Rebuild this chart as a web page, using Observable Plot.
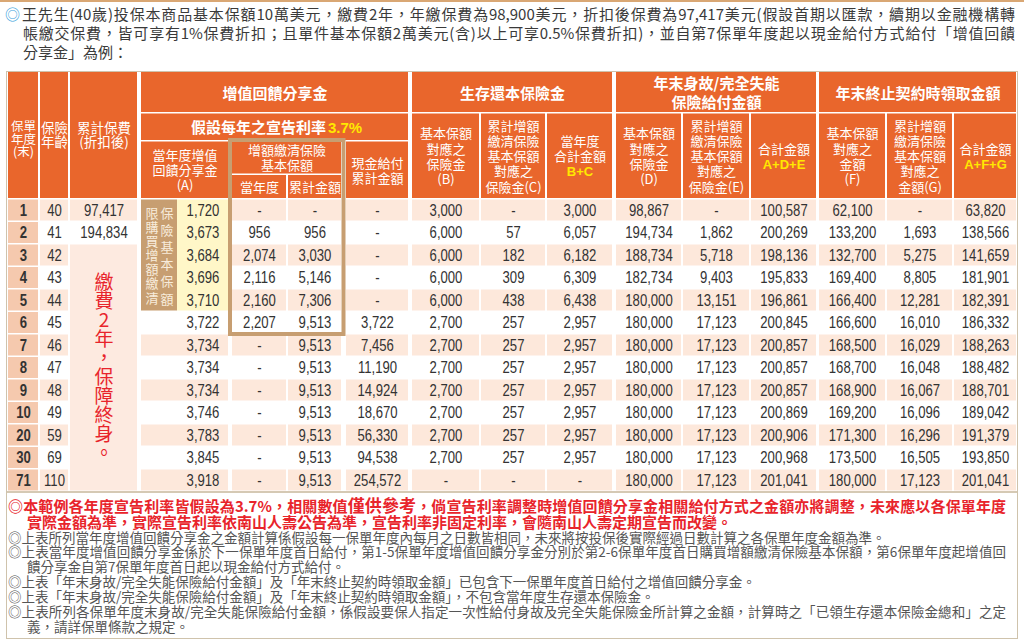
<!DOCTYPE html>
<html><head><meta charset="utf-8">
<script src="https://cdn.jsdelivr.net/npm/d3@7"></script>
<script src="https://cdn.jsdelivr.net/npm/@observablehq/plot@0.6"></script>
<style>
html,body{margin:0;padding:0;background:#fff;}
#page{position:relative;width:1024px;height:644px;overflow:hidden;font-family:"Noto Sans CJK TC","Noto Sans CJK SC",sans-serif;}
.ln{position:absolute;white-space:nowrap;}
.j{text-align:justify;text-align-last:justify;}
.intro{font-size:15px;line-height:19px;color:#3a3a3a;}
.red{font-size:15px;line-height:16px;color:#E8242B;font-weight:700;}
.grey{font-size:13.5px;line-height:15px;color:#555;}
.big{font-size:17px;}
#chart{position:absolute;left:0;top:66px;}
.frame{position:absolute;left:6px;top:71px;width:1012px;height:568px;border:1.5px solid #CFC3AC;box-sizing:border-box;pointer-events:none;}
.sep{position:absolute;left:6px;top:491px;width:1012px;height:1.5px;background:#D5C9B4;}
</style></head><body>
<div id="page">
  <div style="position:absolute;left:0;top:0;width:1024px;height:2px;background:#D9A774"></div>
  <div class="ln intro" style="left:5px;top:4px;color:#3AA3DD">◎</div>
  <div class="ln intro j" style="left:22px;top:4px;width:993px">王先生(40歲)投保本商品基本保額10萬美元，繳費2年，年繳保費為98,900美元，折扣後保費為97,417美元(假設首期以匯款，續期以金融機構轉</div>
  <div class="ln intro j" style="left:23px;top:23px;width:992px">帳繳交保費，皆可享有1%保費折扣；且單件基本保額2萬美元(含)以上可享0.5%保費折扣)，並自第7保單年度起以現金給付方式給付「增值回饋</div>
  <div class="ln intro" style="left:23px;top:42px">分享金」為例：</div>
  <div id="chart"></div>
  <div class="ln red j" style="left:8px;top:497px;width:998px">◎本範例各年度宣告利率皆假設為3.7%，相關數值<span class="big">僅供參考</span>，倘宣告利率調整時增值回饋分享金相關給付方式之金額亦將調整，未來應以各保單年度</div>
  <div class="ln red" style="left:27px;top:514px">實際金額為準，實際宣告利率依南山人壽公告為準，宣告利率非固定利率，會隨南山人壽定期宣告而改變。</div>
  <div class="ln grey" style="left:8px;top:530px">◎上表所列當年度增值回饋分享金之金額計算係假設每一保單年度內每月之日數皆相同，未來將按投保後實際經過日數計算之各保單年度金額為準。</div>
  <div class="ln grey j" style="left:8px;top:544px;width:998px">◎上表當年度增值回饋分享金係於下一保單年度首日給付，第1-5保單年度增值回饋分享金分別於第2-6保單年度首日購買增額繳清保險基本保額，第6保單年度起增值回</div>
  <div class="ln grey" style="left:27px;top:559px">饋分享金自第7保單年度首日起以現金給付方式給付。</div>
  <div class="ln grey" style="left:8px;top:574px">◎上表「年末身故/完全失能保險給付金額」及「年末終止契約時領取金額」已包含下一保單年度首日給付之增值回饋分享金。</div>
  <div class="ln grey" style="left:8px;top:589px">◎上表「年末身故/完全失能保險給付金額」及「年末終止契約時領取金額」，不包含當年度生存還本保險金。</div>
  <div class="ln grey j" style="left:8px;top:604px;width:998px">◎上表所列各保單年度末身故/完全失能保險給付金額，係假設要保人指定一次性給付身故及完全失能保險金所計算之金額，計算時之「已領生存還本保險金總和」之定</div>
  <div class="ln grey" style="left:27px;top:619px">義，請詳保單條款之規定。</div>
  <div class="sep"></div>
  <div class="frame"></div>
</div>
<script>
// ================= DATA =================
const years    = [1, 2, 3, 4, 5, 6, 7, 8, 9, 10, 20, 30, 71];
const ages     = [40, 41, 42, 43, 44, 45, 46, 47, 48, 49, 59, 69, 110];
const cumPremium = [97417, 194834];            // rows 1-2 (rest: merged note)
const bonusA   = [1720, 3673, 3684, 3696, 3710, 3722, 3734, 3734, 3734, 3746, 3783, 3845, 3918];
const puaYear  = [null, 956, 2074, 2116, 2160, 2207, null, null, null, null, null, null, null];
const puaCum   = [null, 956, 3030, 5146, 7306, 9513, 9513, 9513, 9513, 9513, 9513, 9513, 9513];
const cashCum  = [null, null, null, null, null, 3722, 7456, 11190, 14924, 18670, 56330, 94538, 254572];
const survB    = [3000, 6000, 6000, 6000, 6000, 2700, 2700, 2700, 2700, 2700, 2700, 2700, null];
const survC    = [null, 57, 182, 309, 438, 257, 257, 257, 257, 257, 257, 257, null];
const survBC   = [3000, 6057, 6182, 6309, 6438, 2957, 2957, 2957, 2957, 2957, 2957, 2957, null];
const deathD   = [98867, 194734, 188734, 182734, 180000, 180000, 180000, 180000, 180000, 180000, 180000, 180000, 180000];
const deathE   = [null, 1862, 5718, 9403, 13151, 17123, 17123, 17123, 17123, 17123, 17123, 17123, 17123];
const deathADE = [100587, 200269, 198136, 195833, 196861, 200845, 200857, 200857, 200857, 200869, 200906, 200968, 201041];
const surrF    = [62100, 133200, 132700, 169400, 166400, 166600, 168500, 168700, 168900, 169200, 171300, 173500, 180000];
const surrG    = [null, 1693, 5275, 8805, 12281, 16010, 16029, 16048, 16067, 16096, 16296, 16505, 17123];
const surrAFG  = [63820, 138566, 141659, 181901, 182391, 186332, 188263, 188482, 188701, 189042, 191379, 193850, 201041];

const groupTitles = ["增值回饋分享金", "生存還本保險金", "年末身故/完全失能\n保險給付金額", "年末終止契約時領取金額"];
const rateLabel = "假設每年之宣告利率";
const rateValue = "3.7%";
const sideNote = "繳費2年，保障終身。";
const blockLeft = "限購買增額繳清";
const blockRight = "保險基本保額";

// ================= LAYOUT =================
const X_EDGES = [8,38, 40,68, 70,137, 141,177, 177,228, 232,286, 288,341, 346,408,
                 412,479, 481,545, 547,612, 616,681, 683,749, 751,816, 819,885, 887,952, 954,1016];
const Y_TOP = 66, SVG_H = 428;
const HEADER_EDGES = [72,112, 113.5,140, 141.5,173.5, 175,198];
const ROW0 = 199.5, ROW_PITCH = 22.5, ROW_H = 21;
const yEdgesPage = HEADER_EDGES.concat(years.flatMap((_, j) => [ROW0 + ROW_PITCH * j, ROW0 + ROW_PITCH * j + ROW_H]));
const xDomain = X_EDGES.map((_, i) => i);
const yDomain = yEdgesPage.map((_, i) => i);
const yRange = yEdgesPage.map(v => v - Y_TOP);

const ORANGE = "#E9662C", STRIPE = "#FDE8DB", YEAR_BG = "#F5C9AE", MERGED = "#FDEAE0",
      YELLOW = "#FFF7C8", BROWN = "#C79E71", TXT = "#333333", RED = "#E8242B", HL = "#FFE800";
const CJK = "'Noto Sans CJK TC','Noto Sans CJK SC',sans-serif";
const NUM = "'Liberation Sans',Arial,sans-serif";        // condensed after render
const HLF = "Arial,'Liberation Sans',sans-serif";
const NARROW = 0.82;

const xs = Plot.scale({x: {type: "linear", domain: xDomain, range: X_EDGES}});
const ys = Plot.scale({y: {type: "linear", domain: yDomain, range: yRange}});
const midX = (c0, c1) => xs.invert((xs.apply(2 * c0) + xs.apply(2 * c1 + 1)) / 2);
const midY = (r0, r1) => ys.invert((ys.apply(2 * r0) + ys.apply(2 * r1 + 1)) / 2);
const R = j => 4 + j; // data row -> row index

const headerCells = [
  {c:[0,0], r:[0,3], kind:"side0", text:"保單\n年度\n(末)"},
  {c:[1,1], r:[0,3], kind:"side", text:"保險\n年齡"},
  {c:[2,2], r:[0,3], kind:"side", text:"累計保費\n(折扣後)"},
  {c:[3,7], r:[0,0], kind:"title", text:groupTitles[0]},
  {c:[3,7], r:[1,1], kind:"rate", text:""},
  {c:[3,4], r:[2,3], kind:"sub", text:"當年度增值\n回饋分享金\n(A)"},
  {c:[5,6], r:[2,2], kind:"sub", text:"增額繳清保險\n基本保額"},
  {c:[5,5], r:[3,3], kind:"sub", text:"當年度"},
  {c:[6,6], r:[3,3], kind:"sub", text:"累計金額"},
  {c:[7,7], r:[2,3], kind:"sub", text:"現金給付\n累計金額"},
  {c:[8,10], r:[0,0], kind:"title", text:groupTitles[1]},
  {c:[8,8], r:[1,3], kind:"sub", text:"基本保額\n對應之\n保險金\n(B)"},
  {c:[9,9], r:[1,3], kind:"sub", text:"累計增額\n繳清保險\n基本保額\n對應之\n保險金(C)"},
  {c:[10,10], r:[1,3], kind:"sub", text:"當年度\n合計金額\n", hl:"\n\nB+C"},
  {c:[11,13], r:[0,0], kind:"title", text:groupTitles[2]},
  {c:[11,11], r:[1,3], kind:"sub", text:"基本保額\n對應之\n保險金\n(D)"},
  {c:[12,12], r:[1,3], kind:"sub", text:"累計增額\n繳清保險\n基本保額\n對應之\n保險金(E)"},
  {c:[13,13], r:[1,3], kind:"sub", text:"合計金額\n", hl:"\nA+D+E"},
  {c:[14,16], r:[0,0], kind:"title", text:groupTitles[3]},
  {c:[14,14], r:[1,3], kind:"sub", text:"基本保額\n對應之\n金額\n(F)"},
  {c:[15,15], r:[1,3], kind:"sub", text:"累計增額\n繳清保險\n基本保額\n對應之\n金額(G)"},
  {c:[16,16], r:[1,3], kind:"sub", text:"合計金額\n", hl:"\nA+F+G"}
];
headerCells.forEach(d => { d.cx = midX(d.c[0], d.c[1]); d.cy = midY(d.r[0], d.r[1]); });

const yearCells = years.map((y, j) => ({c:[0,0], r:[R(j),R(j)]}));
const stripeCells = [];
years.forEach((y, j) => {
  if (j % 2) return;
  const spans = [[1,1]];
  if (j === 0) spans.push([2,2]);
  if (j >= 5) spans.push([3,4]);
  for (let c = 5; c <= 16; ++c) spans.push([c,c]);
  spans.forEach(c => stripeCells.push({c, r:[R(j),R(j)]}));
});
const mergedPrem = [{c:[2,2], r:[R(2),R(12)]}];
const yellowCells = [{c:[4,4], r:[R(0),R(4)]}];
const brownCells = [{c:[3,3], r:[R(0),R(4)]}];
const boxCells = [{c:[5,6], r:[2,R(5)]}];

const fmt = d3.format(",");
const show = v => v == null ? "-" : fmt(v);
const valueCols = [[1, ages], [4, bonusA], [5, puaYear], [6, puaCum], [7, cashCum], [8, survB], [9, survC], [10, survBC],
  [11, deathD], [12, deathE], [13, deathADE], [14, surrF], [15, surrG], [16, surrAFG]];
const cellTexts = [];
valueCols.forEach(([c, arr]) => arr.forEach((v, j) => cellTexts.push({c, j, text: c === 1 ? String(v) : show(v)})));
cumPremium.forEach((v, j) => cellTexts.push({c: 2, j, text: show(v)}));
const yearTexts = years.map((v, j) => ({c: 0, j, text: String(v)}));

const rectOpts = (fill, extra = {}) => ({x1: d => 2 * d.c[0], x2: d => 2 * d.c[1] + 1, y1: d => 2 * d.r[0], y2: d => 2 * d.r[1] + 1, fill, ...extra});
const hdr = k => headerCells.filter(d => d.kind === k);

const chart = Plot.plot({
  width: 1024, height: SVG_H,
  marginTop: 0, marginRight: 0, marginBottom: 0, marginLeft: 0,
  x: {type: "linear", domain: xDomain, range: X_EDGES, axis: null},
  y: {type: "linear", domain: yDomain, range: yRange, axis: null},
  style: {background: "transparent", overflow: "visible"},
  marks: [
    Plot.rect(headerCells, rectOpts(ORANGE)),
    Plot.rect(yearCells, rectOpts(YEAR_BG)),
    Plot.rect(stripeCells, rectOpts(STRIPE)),
    Plot.rect(mergedPrem, rectOpts(MERGED)),
    Plot.rect(yellowCells, rectOpts(YELLOW)),
    Plot.rect(brownCells, rectOpts(BROWN)),
    Plot.rect(boxCells, rectOpts("none", {stroke: BROWN, strokeWidth: 4, insetLeft: -2, insetRight: -2.5, insetTop: -1.5, insetBottom: -1})),
    Plot.text(hdr("side0"), {x: "cx", y: "cy", text: "text", fill: "white", fontFamily: CJK, fontSize: 12.5, lineHeight: 1.0, dy: 4}),
    Plot.text(hdr("side"), {x: "cx", y: "cy", text: "text", fill: "white", fontFamily: CJK, fontSize: 13.5, lineHeight: 1.0}),
    Plot.text(hdr("title"), {x: "cx", y: "cy", text: "text", fill: "white", fontFamily: CJK, fontSize: 15, fontWeight: 700, lineHeight: 1.27}),
    Plot.text(hdr("rate"), {x: "cx", y: "cy", text: () => rateLabel, fill: "white", fontFamily: CJK, fontSize: 15, fontWeight: 700, textAnchor: "end", dx: 51, dy: 1}),
    Plot.text(hdr("rate"), {x: "cx", y: "cy", text: () => rateValue, fill: HL, fontFamily: HLF, fontSize: 15, fontWeight: 700, textAnchor: "start", dx: 53, dy: 1}),
    Plot.text(hdr("sub"), {x: "cx", y: "cy", text: "text", fill: "white", fontFamily: CJK, fontSize: 13, lineHeight: 1.17}),
    Plot.text(headerCells.filter(d => d.hl), {x: "cx", y: "cy", text: "hl", fill: HL, fontFamily: HLF, fontSize: 13, fontWeight: 700, lineHeight: 1.17}),
    Plot.text(mergedPrem, {x: d => midX(2, 2), y: d => midY(d.r[0], d.r[1]), text: () => [...sideNote].join("\n"), fill: RED, fontFamily: CJK, fontSize: 19, lineHeight: 1.0}),
    Plot.text(brownCells, {x: d => midX(3, 3), y: d => midY(d.r[0], d.r[1]), text: () => [...blockLeft].join("\n"), fill: "#F8ECDB", fontFamily: CJK, fontSize: 13, lineHeight: 1.09, dx: -7.5}),
    Plot.text(brownCells, {x: d => midX(3, 3), y: d => midY(d.r[0], d.r[1]), text: () => [...blockRight].join("\n"), fill: "#F8ECDB", fontFamily: CJK, fontSize: 13, lineHeight: 1.31, dx: 7.5}),
    Plot.text(cellTexts, {x: d => 2 * d.c + 0.5, y: d => 2 * R(d.j) + 0.5, text: "text", fill: TXT, fontFamily: NUM, fontSize: 16}),
    Plot.text(yearTexts, {x: d => 2 * d.c + 0.5, y: d => 2 * R(d.j) + 0.5, text: "text", fill: TXT, fontFamily: NUM, fontSize: 16, fontWeight: 700})
  ]
});
document.getElementById("chart").appendChild(chart);

// condense the numeric cell text horizontally (narrow figures as in the original)
chart.querySelectorAll("g[font-family]").forEach(g => {
  if (g.getAttribute("font-family") !== NUM) return;
  g.querySelectorAll("text").forEach(t => {
    const tr = t.getAttribute("transform");
    if (tr) t.setAttribute("transform", tr + ` scale(${NARROW},1)`);
    else {
      const x = +t.getAttribute("x") || 0, y = +t.getAttribute("y") || 0;
      t.removeAttribute("x"); t.removeAttribute("y");
      t.setAttribute("transform", `translate(${x},${y}) scale(${NARROW},1)`);
    }
  });
});
</script>
</body></html>
